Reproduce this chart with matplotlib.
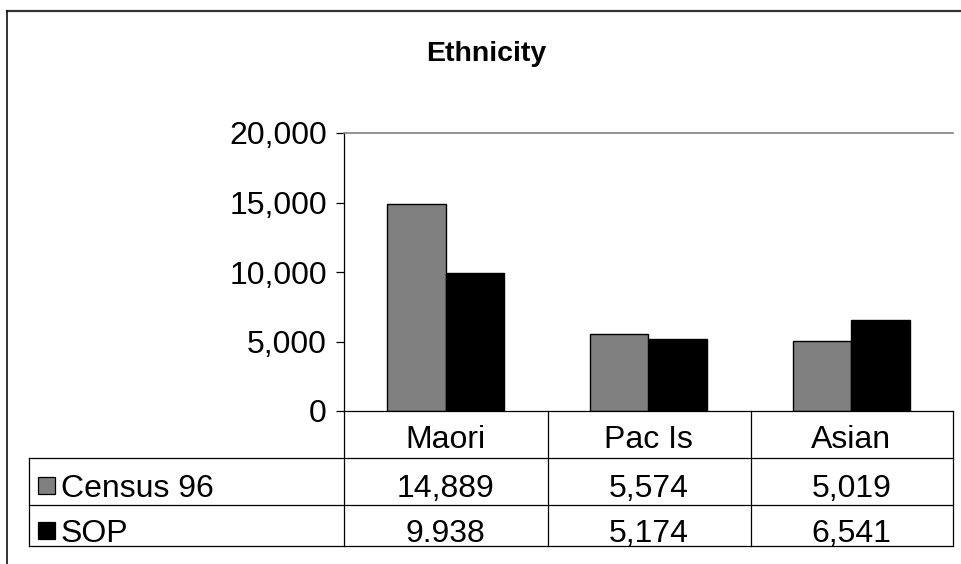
import numpy as np
import matplotlib
matplotlib.use('Agg')
import matplotlib.pyplot as plt
from matplotlib.lines import Line2D
from matplotlib.patches import Rectangle
from matplotlib import transforms

# data
categories = ['Maori', 'Pac Is', 'Asian']
series_names = ['Census 96', 'SOP']
census96 = [14889, 5574, 5019]
sop = [9938, 5174, 6541]
# text as printed in the data table (first SOP value shows a full stop in the original)
census96_table = ['14,889', '5,574', '5,019']
sop_table = ['9.938', '5,174', '6,541']
yticks = [0, 5000, 10000, 15000, 20000]

plt.rcParams['font.family'] = ['Liberation Sans', 'DejaVu Sans']

W, H = 962, 564
fig = plt.figure(figsize=(W / 100, H / 100), dpi=100)
fig.patch.set_facecolor('white')

def fx(px):
    return px / W

def fy(py):
    return 1 - py / H

# plot area in pixels: x 344-953, y 133-411
ax = fig.add_axes([fx(344), fy(411), fx(953) - fx(344), fy(133) - fy(411)])

x = np.arange(len(categories))
w = 0.288
ax.bar(x - w / 2, census96, w, color='#808080', edgecolor='black', linewidth=1.0)
ax.bar(x + w / 2, sop, w, color='black', edgecolor='black', linewidth=1.0)

ax.set_xlim(-0.5, len(categories) - 0.5)
ax.set_ylim(0, 20000)
ax.set_yticks(yticks)
ax.set_yticklabels([f'{v:,}' for v in yticks])
ax.set_xticks([])
ax.tick_params(axis='y', direction='out', length=5.8, width=0.9, pad=6.5,
               labelsize=23, color='black')

ax.spines['right'].set_visible(False)
ax.spines['top'].set_color('#808080')
ax.spines['top'].set_linewidth(1.2)
ax.spines['left'].set_linewidth(0.9)
ax.spines['bottom'].set_linewidth(0.9)

# title
fig.text(fx(486), fy(61), 'Ethnicity', ha='center', va='baseline',
         fontsize=20.5, fontweight='bold')

# data table under the plot
lc = 'black'
lw = 0.9
fs = 23
def hline(y, x0, x1):
    fig.add_artist(Line2D([fx(x0), fx(x1)], [fy(y), fy(y)], color=lc, lw=lw))

def vline(xp, y0, y1):
    fig.add_artist(Line2D([fx(xp), fx(xp)], [fy(y0), fy(y1)], color=lc, lw=lw))

col_edges = [344, 548, 751, 953]
for xp in col_edges:
    vline(xp, 411, 546)
vline(29, 458, 546)
for yp in [458, 505, 546]:
    hline(yp, 29, 953)

tr = transforms.blended_transform_factory(ax.transData, fig.transFigure)
for i, cat in enumerate(categories):
    fig.text(i, fy(448), cat, transform=tr, ha='center', va='baseline', fontsize=fs)
    fig.text(i, fy(497), census96_table[i], transform=tr, ha='center', va='baseline',
             fontsize=fs)
    fig.text(i, fy(542), sop_table[i], transform=tr, ha='center', va='baseline',
             fontsize=fs)

# legend keys inside the table
fig.add_artist(Rectangle((fx(38), fy(494)), fx(17), 17 / H, transform=fig.transFigure,
                         facecolor='#808080', edgecolor='black', lw=0.9))
fig.add_artist(Rectangle((fx(38), fy(539)), fx(17), 17 / H, transform=fig.transFigure,
                         facecolor='black', edgecolor='black', lw=0.9))
fig.text(fx(61), fy(497), series_names[0], ha='left', va='baseline', fontsize=fs)
fig.text(fx(61), fy(542), series_names[1], ha='left', va='baseline', fontsize=fs)

# chart area border (top and left edges visible in the reference)
fig.add_artist(Line2D([fx(7), 1.0], [fy(11), fy(11)], color='#333333', lw=1.6))
fig.add_artist(Line2D([fx(7), fx(7)], [fy(11), 0.0], color='#111111', lw=1.2))

fig.savefig('out.png', dpi=100, facecolor='white')
